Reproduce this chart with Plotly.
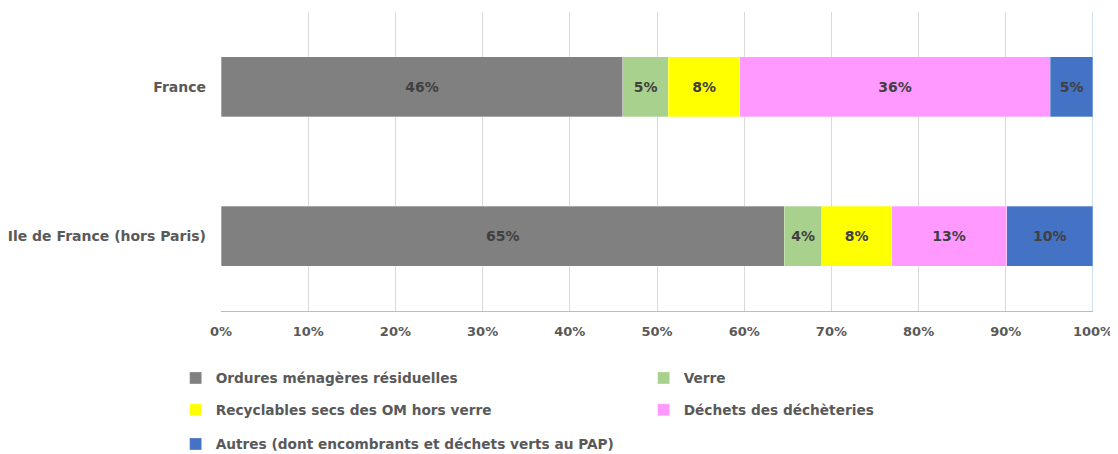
import plotly.graph_objects as go

categories = ["France", "Ile de France (hors Paris)"]
series_names = [
    "Ordures ménagères résiduelles",
    "Verre",
    "Recyclables secs des OM hors verre",
    "Déchets des déchèteries",
    "Autres (dont encombrants et déchets verts au PAP)",
]
omr = [46.1, 64.6]
verre = [5.2, 4.3]
recyclables = [8.2, 8.0]
decheteries = [35.6, 13.2]
autres = [4.9, 9.9]
series_values = [omr, verre, recyclables, decheteries, autres]
colors = ["#808080", "#A9D18E", "#FFFF00", "#FF99FF", "#4472C4"]
legend_ids = ["legend", "legend", "legend2", "legend2", "legend3"]
tick_vals = [0, 10, 20, 30, 40, 50, 60, 70, 80, 90, 100]
tick_text = [f"{v}%" for v in tick_vals]

FONT = "DejaVu Sans"
fig = go.Figure()
for name, vals, col, lg in zip(series_names, series_values, colors, legend_ids):
    fig.add_trace(go.Bar(
        y=categories, x=vals, name=name, orientation="h",
        marker=dict(color=col, line=dict(width=0.5, color="rgba(255,255,255,0.6)")),
        texttemplate="<b>%{x:.0f}%</b>", textposition="inside",
        insidetextanchor="middle",
        textfont=dict(family=FONT, size=14, color="#404040"),
        legend=lg,
    ))

legend_common = dict(
    orientation="h", xanchor="left", yanchor="middle", x=-0.052,
    entrywidth=423, entrywidthmode="pixels", itemwidth=30,
    font=dict(family=FONT, size=13.7, color="#595959", weight="bold"),
    bgcolor="rgba(0,0,0,0)", traceorder="normal",
)

# page body has an 8px margin: figure spans page x 8..1118, y 8..454
fig.update_layout(
    width=1110, height=446,
    margin=dict(l=213, r=25, t=4, b=143, autoexpand=False),
    barmode="stack", bargap=0.6,
    plot_bgcolor="white", paper_bgcolor="white",
    xaxis=dict(
        range=[0, 100], tickvals=tick_vals, ticktext=tick_text,
        showgrid=True, gridcolor="#D9D9D9", gridwidth=1,
        showline=True, linecolor="#9DC3E6", linewidth=1,
        zeroline=False, ticks="",
        tickfont=dict(family=FONT, size=13, color="#595959", weight="bold"),
        ticklabelstandoff=8,
    ),
    yaxis=dict(
        autorange="reversed", showgrid=False, zeroline=False,
        showline=False, ticks="",
        tickfont=dict(family=FONT, size=14, color="#595959", weight="bold"),
        ticklabelstandoff=14,
    ),
    legend=dict(legend_common, y=-0.224),
    legend2=dict(legend_common, y=-0.331),
    legend3=dict(legend_common, y=-0.445),
    showlegend=True,
    shapes=[dict(type="line", xref="x", yref="paper", x0=100, x1=100, y0=0, y1=1,
                 line=dict(color="#9DC3E6", width=1))],
)

fig.write_html("out.html")
